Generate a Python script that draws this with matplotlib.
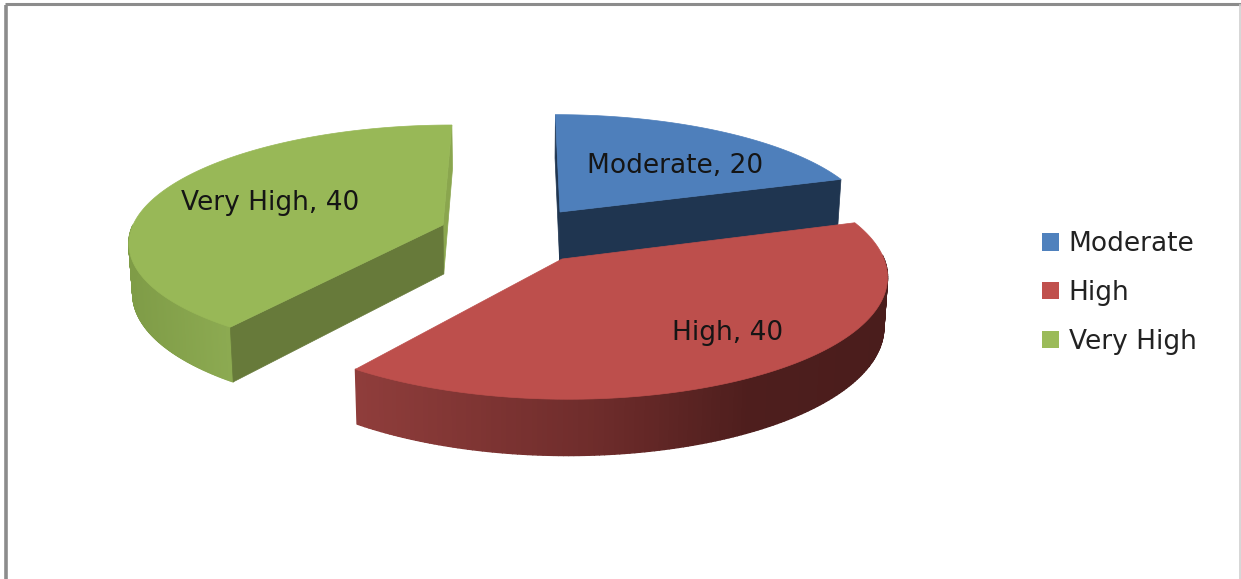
import numpy as np
import matplotlib.pyplot as plt
from matplotlib.collections import PolyCollection
from matplotlib.colors import to_rgb
from matplotlib.patches import Patch, Polygon

categories = ['Moderate', 'High', 'Very High']
values = [20, 40, 40]

W, H = 1241, 579

face_colors = ['#4e7fbb', '#bd4f4c', '#98b857']
cut_colors = ['#1f3550', '#8f3d3b', '#677a3a']   # flat inner wall of each slice
swatch_colors = ['#4f81bd', '#c0504d', '#9bbb59']

# exploded slice centres and ellipse radii, in figure pixels
centers = [(560, 212), (562, 259), (443, 225)]
radii = [(309, 110), (322, 122), (310, 113)]
label_pos = [(675, 166), (728, 333), (270, 203)]

DEPTH = 49
PERSP = 0.13
VANISH_X = 520


def project(c, r, theta):
    # circle on the pie plane -> screen, the front of the pie comes out bigger
    s = 1 / (1 + PERSP * np.sin(theta))
    x = VANISH_X + (c[0] - VANISH_X + r[0] * np.cos(theta)) * s
    y = c[1] - r[1] * np.sin(theta) * s
    return x, y, s


def drop(x, y, s):
    # the same point on the bottom of the slice
    return VANISH_X + (x - VANISH_X) * 0.99, y + DEPTH * s


def wall_color(x, xs, cols):
    rgb = np.array([to_rgb(c) for c in cols])
    return [np.interp(x, xs, rgb[:, i]) for i in range(3)]


def outer_wall(ax, c, r, t1, t2, xs, cols):
    th = np.linspace(t1, t2, 160)
    x, y, s = project(c, r, th)
    xb, yb = drop(x, y, s)
    quads, colors = [], []
    for i in range(len(th) - 1):
        quads.append([(x[i], y[i]), (x[i + 1], y[i + 1]), (xb[i + 1], yb[i + 1]), (xb[i], yb[i])])
        colors.append(wall_color((x[i] + x[i + 1]) / 2, xs, cols))
    ax.add_collection(PolyCollection(quads, facecolors=colors, edgecolors=colors, linewidths=1.0))


def cut_wall(ax, c, r, theta, color):
    x, y, s = project(c, r, theta)
    xb, yb = drop(x, y, s)
    cx, cy = drop(c[0], c[1], 1)
    ax.add_patch(Polygon([c, (x, y), (xb, yb), (cx, cy)], closed=True, fc=color, ec=color, lw=0.5))


def top_face(ax, c, r, t1, t2, color):
    th = np.linspace(t1, t2, 200)
    x, y, s = project(c, r, th)
    pts = [c] + list(zip(x, y))
    ax.add_patch(Polygon(pts, closed=True, fc=color, ec=color, lw=0.5))


fig = plt.figure(figsize=(W / 100, H / 100), dpi=100)
ax = fig.add_axes([0, 0, 1, 1])
ax.set_xlim(0, W)
ax.set_ylim(H, 0)
ax.axis('off')

# outer frame of the chart area
ax.plot([6, 6], [H, 5], color='#8c8c8c', lw=2.6, solid_capstyle='butt')
ax.plot([5, W], [4, 4], color='#8c8c8c', lw=2.2, solid_capstyle='butt')
ax.plot([W - 1.5, W - 1.5], [5, H], color='#cfcfcf', lw=1.2)

# slice angles, clockwise from twelve o'clock
edges = np.pi / 2 - 2 * np.pi * np.cumsum([0] + values) / sum(values)

# Moderate
cut_wall(ax, centers[0], radii[0], edges[0], cut_colors[0])
cut_wall(ax, centers[0], radii[0], edges[1], cut_colors[0])
top_face(ax, centers[0], radii[0], edges[0], edges[1], face_colors[0])

# Very High
cut_wall(ax, centers[2], radii[2], edges[3], '#8aa64e')
outer_wall(ax, centers[2], radii[2], edges[2], -np.pi, [130, 235], ['#7f9c47', '#8dab52'])
cut_wall(ax, centers[2], radii[2], edges[2], cut_colors[2])
top_face(ax, centers[2], radii[2], edges[2], edges[3], face_colors[2])

# High
outer_wall(ax, centers[1], radii[1], edges[2], 0.03, [360, 600, 750, 890],
           ['#8f3d3b', '#6e2c2b', '#4e1e1d', '#4a1d1c'])
top_face(ax, centers[1], radii[1], edges[1], edges[2], face_colors[1])

for name, val, pos in zip(categories, values, label_pos):
    ax.text(pos[0], pos[1], f'{name}, {val}', fontsize=19, color='#151515', ha='center', va='center')

handles = [Patch(fc=col, ec='none', label=name) for name, col in zip(categories, swatch_colors)]
ax.legend(handles=handles, loc='center left', bbox_to_anchor=(1031.5 / W, 1 - 293 / H),
          frameon=False, fontsize=19, handlelength=0.63, handleheight=0.63,
          handletextpad=0.38, labelspacing=0.86, labelcolor='#222222', borderaxespad=0)

plt.savefig('out.png', dpi=100)
